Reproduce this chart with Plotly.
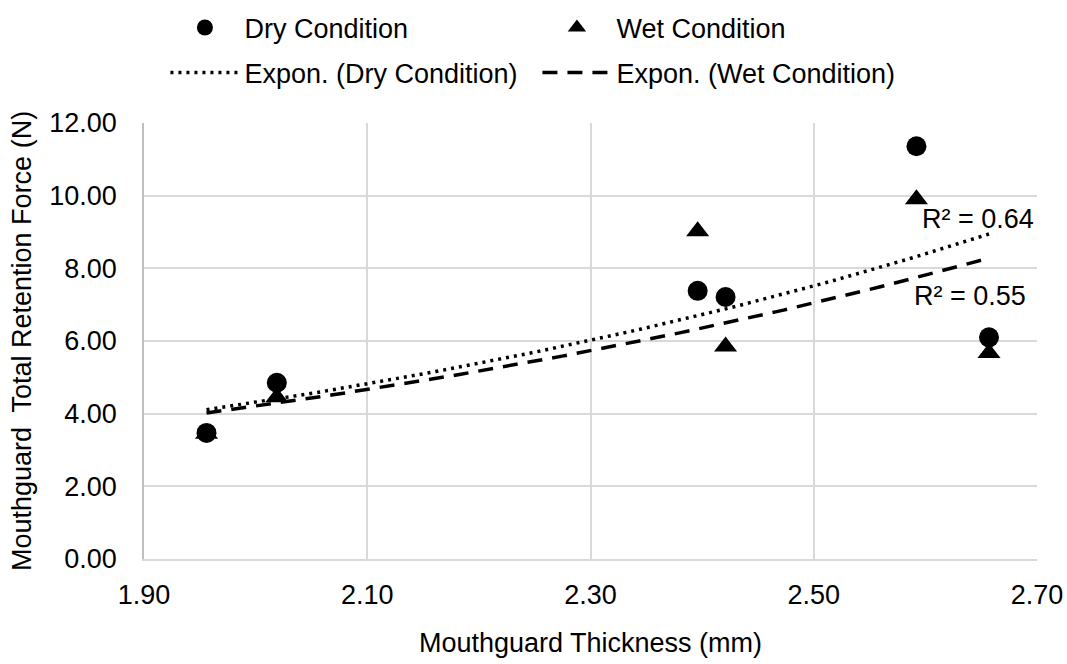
import numpy as np
import plotly.graph_objects as go

thickness = [1.956, 2.019, 2.396, 2.421, 2.592, 2.657]
dry_force = [3.47, 4.85, 7.38, 7.21, 11.36, 6.10]
wet_force = [3.45, 4.45, 9.02, 5.85, 9.90, 5.67]
x_ticks = [1.90, 2.10, 2.30, 2.50, 2.70]
y_ticks = [0, 2, 4, 6, 8, 10, 12]
r2_labels = ["R² = 0.64", "R² = 0.55"]

FONT = "Liberation Sans, Arial, sans-serif"
FS = 27

def expfit(x, y):
    x = np.asarray(x); y = np.asarray(y)
    b, a = np.polyfit(x, np.log(y), 1)
    xs = np.linspace(x.min(), x.max(), 100)
    return xs, np.exp(a + b * xs)

fig = go.Figure()
fig.add_trace(go.Scatter(x=thickness, y=dry_force, mode="markers", name="Dry Condition",
                         legend="legend",
                         marker=dict(symbol="circle", size=20, color="black")))
fig.add_trace(go.Scatter(x=thickness, y=wet_force, mode="markers", name="Wet Condition",
                         legend="legend",
                         marker=dict(symbol="triangle-up", size=20, color="black")))
xd, yd = expfit(thickness, dry_force)
xw, yw = expfit(thickness, wet_force)
fig.add_trace(go.Scatter(x=xd, y=yd, mode="lines", name="Expon. (Dry Condition)",
                         legend="legend2",
                         line=dict(color="black", width=3.5, dash="3px,5px")))
fig.add_trace(go.Scatter(x=xw, y=yw, mode="lines", name="Expon. (Wet Condition)",
                         legend="legend2",
                         line=dict(color="black", width=3.5, dash="15px,10px")))

fig.add_annotation(x=2.647, y=9.37, text=r2_labels[0], showarrow=False,
                   font=dict(size=FS, color="black", family=FONT))
fig.add_annotation(x=2.640, y=7.25, text=r2_labels[1], showarrow=False,
                   font=dict(size=FS, color="black", family=FONT))

leg_common = dict(orientation="h", x=0.024, xanchor="left", yanchor="middle",
                  entrywidth=288, entrywidthmode="pixels", itemwidth=69,
                  font=dict(size=FS, family=FONT, color="black"),
                  bgcolor="rgba(0,0,0,0)")

fig.update_layout(
    width=1067, height=664,
    margin=dict(l=144, r=30, t=123, b=105, autoexpand=False),
    paper_bgcolor="white", plot_bgcolor="white",
    font=dict(family=FONT, size=FS, color="black"),
    showlegend=True,
    legend=dict(y=1.218, **leg_common),
    legend2=dict(y=1.115, **leg_common),
    xaxis=dict(range=[1.90, 2.70], tickvals=x_ticks, ticktext=[f"{v:.2f}" for v in x_ticks],
               showgrid=True, gridcolor="#d9d9d9", gridwidth=1.5, zeroline=False,
               showline=True, linecolor="#d9d9d9", linewidth=1.5, ticks="",
               ticklabelstandoff=11, automargin=False,
               tickfont=dict(size=FS, family=FONT),
               title=dict(text="Mouthguard Thickness (mm)", standoff=24,
                          font=dict(size=FS, family=FONT))),
    yaxis=dict(range=[0, 12], tickvals=y_ticks, ticktext=[f"{v:.2f}" for v in y_ticks],
               showgrid=True, gridcolor="#d9d9d9", gridwidth=1.5, zeroline=False,
               showline=True, linecolor="#bfbfbf", linewidth=1.5, ticks="",
               ticklabelstandoff=20, automargin=False,
               tickfont=dict(size=FS, family=FONT),
               title=dict(text="Mouthguard\u00a0 Total Retention Force (N)", standoff=10,
                          font=dict(size=FS, family=FONT))),
)

fig.write_html("out.html")
